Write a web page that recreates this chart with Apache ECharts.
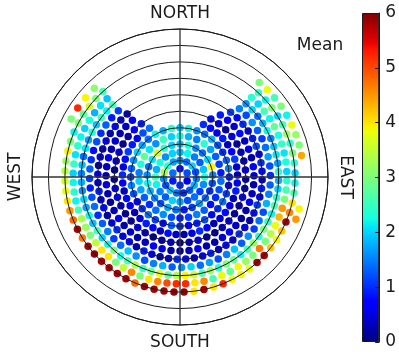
<!DOCTYPE html>
<html>
<head>
<meta charset="utf-8">
<script src="https://cdn.jsdelivr.net/npm/echarts@6/dist/echarts.min.js"></script>
<style>
html,body{margin:0;padding:0;background:#fff}
#chart{width:399px;height:356px}
</style>
</head>
<body>
<div id="chart"></div>
<script>
// Mean value over the sky. Each ring is one zenith angle (degrees); its dots
// run clockwise in azimuth (0 = north, 90 = east) from a0 with a fixed step.
// null marks an empty slot on a ring.
const zen05 = [0.8,1.2,0.6,1.0,0.9,1.4];
const zen10 = [1.6,1.4,2.0,1.2,1.5,1.8,1.3,1.0,1.4,1.9,1.2,1.6,3.3,2.4,1.7];
const zen15 = [1.8,2.2,1.5,1.3,1.9,2.4,1.6,1.1,1.4,1.2,1.7,2.0,1.3,1.5,2.2,2.6,1.8,2.3,1.6,2.0];
const zen20 = [1.9,2.3,1.6,1.4,2.0,3.9,1.5,1.2,1.0,1.3,1.6,1.1,0.9,1.4,1.7,1.2,1.5,1.8,2.2,1.6,1.4,2.1,3.6,2.4,2.0];
const zen25 = [2.2,1.8,1.5,2.4,1.7,1.3,1.1,0.9,1.4,1.2,1.0,0.8,1.3,1.5,1.1,0.9,1.2,1.6,1.4,1.0,1.3,1.7,2.0,1.5,2.3,2.8,2.1,1.6,2.5,2.0];
const zen30 = [1.9,2.2,1.6,1.4,1.8,1.2,1.0,1.3,1.5,0.9,0.7,1.1,1.4,1.0,0.8,1.2,0.9,0.6,1.0,1.3,0.8,1.1,1.4,1.0,0.7,1.2,1.5,1.1,1.3,1.6,2.0,1.7,1.4,2.2,1.8,2.4];
const zen35 = [1.0,0.8,0.5,0.9,0.3,0.7,1.1,0.4,0.2,0.6,0.9,0.3,0.5,0.8,0.4,0.2,0.6,1.0,0.5,0.2,0.4,0.8,0.3,0.6,0.9,0.4,0.2,0.5,0.8,0.3,0.6,1.0,0.5,0.8,1.1,0.9,0.6,1.2,1.4];
const zen40 = [0.8,0.5,0.3,0.6,0.2,0.4,0.2,0.5,0.1,0.3,0.7,0.2,0.2,0.4,0.3,0.1,0.2,0.6,0.3,0.2,0.4,0.2,0.1,0.3,0.6,0.2,0.2,0.3,0.7,0.4,0.2,0.1,0.3,0.6,0.2,0.4,0.7,0.9];
const zen45 = [0.9,0.6,0.4,0.8,0.3,0.5,0.2,0.7,0.4,0.2,0.3,0.6,0.2,0.1,0.3,0.7,0.4,0.2,0.2,0.6,0.3,0.1,0.2,0.5,0.7,0.3,0.2,0.4,0.2,0.6,0.3,0.1,0.2,0.5,0.2,0.3,0.6,0.2,0.4,0.2,0.3,0.6];
const zen50 = [1.1,0.8,1.0,0.5,0.9,1.2,0.6,1.0,0.8,0.4,0.9,0.5,1.1,0.8,0.3,0.6,1.0,0.5,0.8,0.4,0.9,0.6,0.3,0.8,1.0,0.5,0.2,0.6,0.9,0.4,0.8,0.5,1.0,0.6,0.3,0.8,0.5,0.9,0.4,0.6,0.2,0.5,0.3,0.6,0.4,0.8,0.5,0.3];
const zen55 = [1.5,1.2,1.6,1.3,1.1,1.4,1.7,1.2,1.0,1.3,1.5,1.8,1.2,1.4,1.1,1.6,1.3,1.9,1.5,1.2,1.7,1.4,2.0,1.6,1.3,1.8,1.5,1.2,1.6,1.9,1.4,1.1,1.5,1.3,1.0,1.4,1.2,0.9,1.1,1.3,1.0,0.8,1.2,1.0,1.3,0.9,1.1];
const zen60 = [1.6,2.0,1.4,1.8,2.2,1.5,1.9,2.1,
               1.7,2.3,1.8,2.0,2.4,2.6,2.2,
               2.5,2.9,2.3,3.1,2.6,2.2,2.8,3.0,
               2.4,3.2,2.7,3.6,3.9,3.4,2.8,3.7,2.9,2.5,3.3,
               2.6,2.3,2.9,2.2,2.0,2.5,1.9,2.2,1.7,2.0,1.6,
               1.8,1.5,1.9,1.4,2.1,1.7,2.3,1.9,2.5,2.2,2.6];
const zen65 = [2.4,2.0,2.6,2.2,2.8,2.3,2.5,2.1,
               2.3,2.0,2.4,2.6,3.0,4.5,4.3,
               3.8,3.4,3.0,4.7,3.0,3.2,3.9,2.8,
               3.8,2.6,4.6,4.0,5.2,5.2,5.0,4.6,4.0,3.0,4.6,
               3.5,3.0,4.0,4.0,3.5,3.0,3.2,3.3,2.6,2.2,2.4,
               2.2,2.0,2.5,2.1,2.4,2.2,2.0,2.3,1.8,2.1,1.9];
const zen70 = [2.5,2.2,3.0,2.0,2.6,3.2,2.4,3.0,
               2.4,2.0,2.2,2.6,4.0,4.6,5.8,
               4.2,3.9,4.2,5.8,5.8,3.8,3.9,3.9,
               5.2,4.0,5.8,4.0,5.9,5.9,5.8,5.8,5.8,4.8,5.8,
               5.8,5.8,5.8,5.9,5.8,4.7,5.8,4.8,4.5,4.0,3.8,
               3.6,3.4,3.2,3.9,3.0,2.2,3.0,2.8,3.6,3.0,2.6];
const zen75east = [3.0,3.8,2.6,3.0,2.2,3.8,3.2,3.0,4.4,null,null,null,null,3.9,4.5];
const zen75west = [3.0,5.2,3.9,3.1];

const rings = [
  {z: 5,  a0: 0,   step: 60,  v: zen05},
  {z: 10, a0: 0,   step: 24,  v: zen10},
  {z: 15, a0: 0,   step: 18,  v: zen15},
  {z: 20, a0: 0,   step: 14.4,v: zen20},
  {z: 25, a0: 0,   step: 12,  v: zen25},
  {z: 30, a0: 0,   step: 10,  v: zen30},
  {z: 35, a0: 24,  step: 8,   v: zen35},
  {z: 40, a0: 28,  step: 8,   v: zen40},
  {z: 45, a0: 33,  step: 7,   v: zen45},
  {z: 50, a0: 38,  step: 6,   v: zen50},
  {z: 55, a0: 41,  step: 6,   v: zen55},
  {z: 60, a0: 42,  step: 5,   v: zen60},
  {z: 65, a0: 42,  step: 5,   v: zen65},
  {z: 70, a0: 43,  step: 5,   v: zen70},
  {z: 75, a0: 40,  step: 5,   v: zen75east},
  {z: 75, a0: 298, step: 6,   v: zen75west}
];

const compass = ['NORTH', 'EAST', 'SOUTH', 'WEST'];
const colorTicks = [0, 1, 2, 3, 4, 5, 6];
const valueMin = 0, valueMax = 6;

// matplotlib "jet" colour map
function jet(t) {
  const r = t < 0.35 ? 0 : t < 0.66 ? (t - 0.35) / 0.31 : t < 0.89 ? 1 : 1 - 0.5 * (t - 0.89) / 0.11;
  const g = t < 0.125 ? 0 : t < 0.375 ? (t - 0.125) / 0.25 : t < 0.64 ? 1 : t < 0.91 ? 1 - (t - 0.64) / 0.27 : 0;
  const b = t < 0.11 ? 0.5 + 0.5 * t / 0.11 : t < 0.34 ? 1 : t < 0.65 ? 1 - (t - 0.34) / 0.31 : 0;
  const h = x => Math.round(Math.max(0, Math.min(1, x)) * 255).toString(16).padStart(2, '0');
  return '#' + h(r) + h(g) + h(b);
}
const jetColors = Array.from({length: 65}, (_, i) => jet(i / 64));

const points = [];
rings.forEach(rg => {
  rg.v.forEach((val, i) => {
    if (val === null) return;
    const az = (rg.a0 + i * rg.step) % 360;
    points.push([rg.z, az, val]);
  });
});

const font = 'DejaVu Sans';
const ink = '#1a1a1a';

const chart = echarts.init(document.getElementById('chart'), null, {renderer: 'canvas'});
chart.setOption({
  animation: false,
  backgroundColor: '#fff',
  polar: {center: [180, 177], radius: 148},
  angleAxis: {
    type: 'value', min: 0, max: 360, interval: 90, startAngle: 90, clockwise: true, z: 10,
    axisLine: {show: true, lineStyle: {color: ink, width: 1}},
    axisTick: {show: false}, axisLabel: {show: false},
    splitLine: {show: true, lineStyle: {color: '#333', width: 1.3}}
  },
  radiusAxis: {
    type: 'value', min: 0, max: 90, interval: 10, z: 10,
    axisLine: {show: false}, axisTick: {show: false}, axisLabel: {show: false},
    splitLine: {show: true, lineStyle: {color: ink, width: 1}}
  },
  grid: {left: 362, top: 13, width: 20, height: 329},
  xAxis: {type: 'category', data: ['Mean'], show: false},
  yAxis: {
    type: 'value', min: valueMin, max: valueMax, interval: 1, position: 'right', z: 10,
    axisLine: {show: true, lineStyle: {color: ink, width: 1}},
    axisTick: {show: true, inside: true, length: 4, lineStyle: {color: ink}},
    axisLabel: {fontSize: 17, color: ink, margin: 6, fontFamily: font,
      formatter: v => colorTicks.includes(v) ? String(v) : ''},
    splitLine: {show: false}
  },
  visualMap: {
    type: 'continuous', show: false, min: valueMin, max: valueMax,
    dimension: 2, seriesIndex: 0, inRange: {color: jetColors}
  },
  series: [
    {
      type: 'scatter', coordinateSystem: 'polar', symbolSize: 7.5,
      data: points, itemStyle: {opacity: 1}, silent: true
    },
    {
      type: 'bar', data: [valueMax], barWidth: '100%', silent: true,
      itemStyle: {
        color: new echarts.graphic.LinearGradient(0, 1, 0, 0,
          jetColors.map((c, i) => ({offset: i / 64, color: c}))),
        borderColor: ink, borderWidth: 1
      }
    }
  ],
  graphic: [
    {type: 'text', x: 180, y: 14, style: {text: compass[0], font: '17px "DejaVu Sans"', fill: ink, align: 'center', verticalAlign: 'middle'}},
    {type: 'text', x: 345, y: 177, rotation: -Math.PI / 2, style: {text: compass[1], font: '17px "DejaVu Sans"', fill: ink, align: 'center', verticalAlign: 'middle'}},
    {type: 'text', x: 180, y: 343, style: {text: compass[2], font: '17px "DejaVu Sans"', fill: ink, align: 'center', verticalAlign: 'middle'}},
    {type: 'text', x: 16, y: 177, rotation: Math.PI / 2, style: {text: compass[3], font: '17px "DejaVu Sans"', fill: ink, align: 'center', verticalAlign: 'middle'}},
    {type: 'text', x: 320, y: 46, style: {text: 'Mean', font: '17px "DejaVu Sans"', fill: ink, align: 'center', verticalAlign: 'middle'}}
  ]
});
</script>
</body>
</html>
